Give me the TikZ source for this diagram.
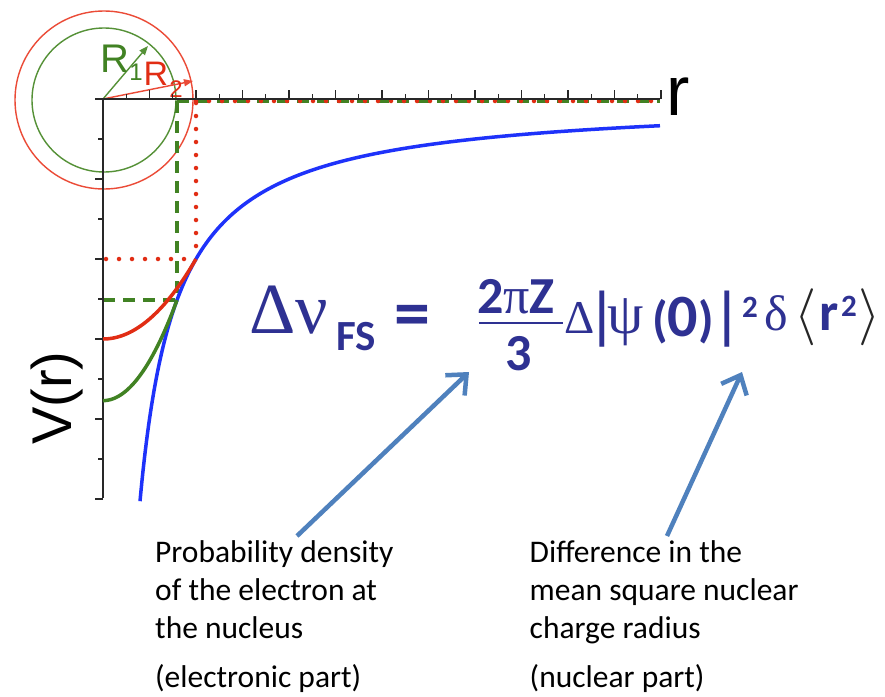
\documentclass[tikz,border=0pt]{standalone}
\usepackage{fontspec}
\setmainfont{Carlito}
\newfontfamily\serifgr{Liberation Serif}
\newfontfamily\arialf{Liberation Sans}
\usetikzlibrary{arrows.meta}
\definecolor{fcol}{RGB}{46,49,146}
\definecolor{bcurve}{RGB}{30,50,250}
\definecolor{rcurve}{RGB}{225,45,20}
\definecolor{gcurve}{RGB}{65,130,35}
\definecolor{rcirc}{RGB}{235,75,55}
\definecolor{gcirc}{RGB}{85,145,55}
\definecolor{arrowblue}{RGB}{79,129,189}
\definecolor{axisgray}{RGB}{40,40,40}
\tikzset{
  fml/.style={inner sep=0pt, anchor=base, text=fcol},
  fs/.style={font=\fontsize{#1}{#1}\selectfont},
  fb/.style={font=\bfseries\fontsize{#1}{#1}\selectfont},
  gs/.style={font=\serifgr\fontsize{#1}{#1}\selectfont},
  as/.style={font=\arialf\fontsize{#1}{#1}\selectfont},
  txt/.style={inner sep=0pt, anchor=base west, font=\fontsize{31.5}{38}\selectfont},
  axisline/.style={axisgray, line width=1.3pt},
  tick/.style={axisgray, line width=1.1pt},
  bluearrow/.style={arrowblue, line width=4.5pt, -{Straight Barb[length=16pt,width=28pt]}},
  radarrow/.style={line width=1.4pt, -{Triangle[length=9pt,width=7pt]}},
  reddots/.style={rcurve, line width=4.5pt, line cap=round, dash pattern=on 0pt off 13pt},
  greendash/.style={gcurve, line width=3.2pt, dash pattern=on 12pt off 8pt},
}
\begin{document}
\begin{tikzpicture}[x=1pt,y=-1pt]
\useasboundingbox (0,0) rectangle (885,696);
\fill[white] (0,0) rectangle (885,696);

% nucleus circles
\coordinate (O) at (103,99);
\draw[rcirc, line width=1.4pt] (104,100) circle[radius=89];
\draw[gcirc, line width=1.4pt] (104,100) circle[radius=72];
\coordinate (R1tip) at (148,46);
\coordinate (R2tip) at (193,81);
\draw[radarrow, gcirc] (O) -- (R1tip);
\draw[radarrow, rcirc] (O) -- (R2tip);
\node[inner sep=0pt, anchor=base, text=gcurve, as=40] (R1) at (115,72) {R};
\node[inner sep=0pt, anchor=base, text=gcurve, as=24] (R1s) at (136,80) {1};
\node[inner sep=0pt, anchor=base, text=rcurve, as=34] (R2) at (156,85) {R};
\node[inner sep=0pt, anchor=base, text=rcurve, as=24] (R2s) at (176,97) {2};

% dashed / dotted guides
\draw[greendash] (177,101) -- (660,101);
\draw[reddots] (196,101) -- (660,101);
\draw[greendash] (177,101) -- (177,300);
\draw[greendash] (103,300) -- (177,300);
\draw[reddots] (196,103) -- (196,259);
\draw[reddots] (106,259) -- (196,259);

% axes
\draw[axisline] (95,99) -- (660,99);
\draw[axisline] (103,99) -- (103,498);
\foreach \i in {1,...,24}{
  \pgfmathsetmacro{\xx}{103+23.25*\i}
  \ifodd\i
    \draw[tick] (\xx,99) -- (\xx,94);
  \else
    \draw[tick] (\xx,99) -- (\xx,90);
  \fi
}
\foreach \k in {1,...,10}{
  \pgfmathsetmacro{\yy}{99+40*\k}
  \ifodd\k
    \draw[tick] (103,\yy) -- (98,\yy);
  \else
    \draw[tick] (103,\yy) -- (95,\yy);
  \fi
}

% potentials
\draw[bcurve, line width=3.5pt] plot[domain=140:660, samples=220, smooth] (\x,{99+14880/(\x-103)});
\draw[rcurve, line width=3.5pt] plot[domain=103:196, samples=60, smooth] (\x,{99+80*(3-(\x-103)*(\x-103)/8649)});
\draw[gcurve, line width=3.5pt] plot[domain=103:177, samples=60, smooth] (\x,{99+100.54*(3-(\x-103)*(\x-103)/5476)});

% axis labels
\node[inner sep=0pt, anchor=base, rotate=90, as=56] (Vr) at (71,398) {V(r)};
\node[inner sep=0pt, anchor=base, as=70] (rlab) at (678,115) {r};

% formula
\node[fml, gs=72] (D1) at (273,333) {Δ};
\node[fml, gs=72] (nu) at (312,333) {ν};
\node[fml, fb=43] (FS) at (356,350) {FS};
\node[fml, fb=72] (eq) at (412,337) {=};
\node[fml, fb=52] (num) at (516,313) {2{\serifgr\mdseries π}Z};
\draw[fcol, line width=2.5pt] (479,323) -- (563,323);
\node[fml, fb=52] (den) at (519,370) {3};
\node[fml, gs=47] (D2) at (580,333) {Δ};
\node[fml, as=60] (bar1) at (602,334) {|};
\node[fml, gs=58] (psi) at (626,333) {ψ};
\node[fml, fb=50] (zero) at (683,336) {({\fontsize{60}{60}\selectfont 0})};
\node[fml, as=60] (bar2) at (727,334) {|};
\node[fml, fb=31] (sq1) at (750,317) {2};
\node[fml, gs=50] (delta) at (776,330) {δ};
\node[inner sep=0pt, anchor=base, text=black!85] (la) at (806,331) {\scalebox{5.7}{$\langle$}};
\node[fml, fb=54] (rr) at (829,330) {r};
\node[fml, fb=31] (sq2) at (849,316) {2};
\node[inner sep=0pt, anchor=base, text=black!85] (ra) at (870,331) {\scalebox{5.7}{$\rangle$}};

% explanatory texts
\node[txt] (p1) at (155,562) {Probability density};
\node[txt] (p2) at (155,600) {of the electron at};
\node[txt] (p3) at (155,638) {the nucleus};
\node[txt] (p4) at (155,687) {(electronic part)};
\node[txt] (q1) at (529.5,562) {Difference in the};
\node[txt] (q2) at (529.5,600) {mean square nuclear};
\node[txt] (q3) at (529.5,638) {charge radius};
\node[txt] (q4) at (529.5,687) {(nuclear part)};

% pointer arrows
\coordinate (a1s) at (297,536);
\coordinate (a1e) at (469,372);
\coordinate (a2s) at (667,536);
\coordinate (a2e) at (742,372);
\draw[bluearrow] (a1s) -- (a1e);
\draw[bluearrow] (a2s) -- (a2e);
\end{tikzpicture}
\end{document}
